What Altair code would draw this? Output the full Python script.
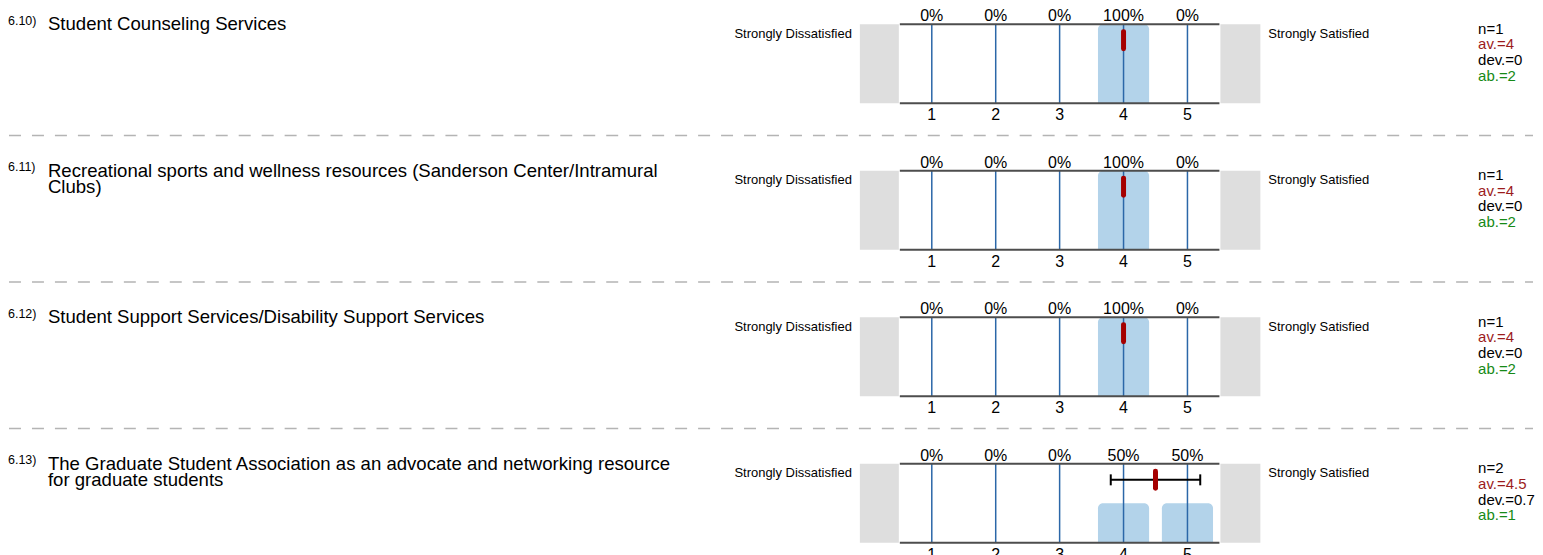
import altair as alt
import pandas as pd

# ---- data ----
qids = ["6.10)", "6.11)", "6.12)", "6.13)"]
titles = [
    "Student Counseling Services",
    "Recreational sports and wellness resources (Sanderson Center/Intramural\nClubs)",
    "Student Support Services/Disability Support Services",
    "The Graduate Student Association as an advocate and networking resource\nfor graduate students",
]
scale_values = [1, 2, 3, 4, 5]
pcts = [
    [0, 0, 0, 100, 0],
    [0, 0, 0, 100, 0],
    [0, 0, 0, 100, 0],
    [0, 0, 0, 50, 50],
]
ns = [1, 1, 1, 2]
means = [4, 4, 4, 4.5]
devs = [0, 0, 0, 0.7]
abst = [2, 2, 2, 1]
left_label = "Strongly Dissatisfied"
right_label = "Strongly Satisfied"

rows = []
for i, q in enumerate(qids):
    for j, v in enumerate(scale_values):
        rows.append({
            "qid": q, "order": i, "title": titles[i], "value": v, "pct": pcts[i][j],
            "n": ns[i], "mean": means[i], "dev": devs[i], "ab": abst[i],
        })
df = pd.DataFrame(rows)

FONT = "Liberation Sans"
W, H = 320, 79
xs = alt.Scale(domain=[0.5, 5.5])
ys = alt.Scale(domain=[0, 100])

base = alt.Chart(df)
one = base.transform_filter("datum.value == 1")

gray_left = one.mark_rect(color="#dedede").encode(
    x=alt.value(-40), x2=alt.value(-1), y=alt.value(0), y2=alt.value(H))
gray_right = one.mark_rect(color="#dedede").encode(
    x=alt.value(W + 1), x2=alt.value(W + 41), y=alt.value(0), y2=alt.value(H))

bars = base.transform_filter("datum.pct > 0").transform_calculate(
    x_lo="datum.value - 0.4", x_hi="datum.value + 0.4"
).mark_bar(color="#b3d3ea", cornerRadiusTopLeft=5, cornerRadiusTopRight=5).encode(
    x=alt.X("x_lo:Q", scale=xs, axis=None),
    x2="x_hi:Q",
    y=alt.Y("pct:Q", scale=ys, axis=None),
    y2=alt.datum(0),
)

vlines = base.mark_rule(color="#2b67a8", strokeWidth=1.5).encode(
    x=alt.X("value:Q", scale=xs, axis=None), y=alt.value(0), y2=alt.value(H))

top_line = one.mark_rule(color="#4d4d4d", strokeWidth=2).encode(
    x=alt.value(0), x2=alt.value(W), y=alt.value(0))
bot_line = one.mark_rule(color="#4d4d4d", strokeWidth=2).encode(
    x=alt.value(0), x2=alt.value(W), y=alt.value(H))

err = one.transform_filter("datum.dev > 0").transform_calculate(
    lo="datum.mean - datum.dev", hi="datum.mean + datum.dev")
err_line = err.mark_rule(color="black", strokeWidth=2).encode(
    x=alt.X("lo:Q", scale=xs, axis=None), x2="hi:Q", y=alt.value(16))
err_caps = err.transform_fold(["lo", "hi"], as_=["end", "pos"]).mark_rule(
    color="black", strokeWidth=2).encode(
    x=alt.X("pos:Q", scale=xs, axis=None), y=alt.value(10.5), y2=alt.value(21.5))

mean_mark = one.mark_rule(color="#a50000", strokeWidth=5, strokeCap="round").encode(
    x=alt.X("mean:Q", scale=xs, axis=None), y=alt.value(7.5), y2=alt.value(24.5))

pct_text = base.transform_calculate(lab="datum.pct + '%'").mark_text(
    font=FONT, fontSize=16, baseline="middle", align="center", color="black").encode(
    x=alt.X("value:Q", scale=xs, axis=None), y=alt.value(-8.3), text="lab:N")

tick_text = base.mark_text(
    font=FONT, fontSize=16, baseline="middle", align="center", color="black").encode(
    x=alt.X("value:Q", scale=xs, axis=None), y=alt.value(H + 12), text="value:Q")

lab_left = one.mark_text(font=FONT, fontSize=13, align="right", baseline="middle",
                         text=left_label, color="black").encode(
    x=alt.value(-48), y=alt.value(9.3))
lab_right = one.mark_text(font=FONT, fontSize=13, align="left", baseline="middle",
                          text=right_label, color="black").encode(
    x=alt.value(W + 49), y=alt.value(9.3))

qnum = one.mark_text(font=FONT, fontSize=12.5, align="left", baseline="alphabetic",
                     color="black").encode(
    x=alt.value(-893), y=alt.value(0.5), text="qid:N")
qtitle = one.mark_text(font=FONT, fontSize=18.6, align="left", baseline="alphabetic",
                       lineBreak="\n", lineHeight=16.5, color="black").encode(
    x=alt.value(-853), y=alt.value(6), text="title:N")

stat_n = one.transform_calculate(s="'n=' + datum.n").mark_text(
    font=FONT, fontSize=15, align="left", baseline="middle", color="black").encode(
    x=alt.value(W + 259), y=alt.value(4.3), text="s:N")
stat_av = one.transform_calculate(s="'av.=' + datum.mean").mark_text(
    font=FONT, fontSize=15, align="left", baseline="middle", color="#9c1c1c").encode(
    x=alt.value(W + 259), y=alt.value(20), text="s:N")
stat_dev = one.transform_calculate(s="'dev.=' + datum.dev").mark_text(
    font=FONT, fontSize=15, align="left", baseline="middle", color="black").encode(
    x=alt.value(W + 259), y=alt.value(35.7), text="s:N")
stat_ab = one.transform_calculate(s="'ab.=' + datum.ab").mark_text(
    font=FONT, fontSize=15, align="left", baseline="middle", color="#168a16").encode(
    x=alt.value(W + 259), y=alt.value(51.4), text="s:N")

sep = one.transform_filter("datum.order < 3").mark_rule(
    color="#b4b4b4", strokeWidth=1.5, strokeDash=[12, 11]).encode(
    x=alt.value(-892), x2=alt.value(634), y=alt.value(H + 32.4))

layered = alt.layer(
    gray_left, gray_right, bars, vlines, top_line, bot_line,
    err_line, err_caps, mean_mark, pct_text, tick_text,
    lab_left, lab_right, qnum, qtitle,
    stat_n, stat_av, stat_dev, stat_ab, sep,
).properties(width=W, height=H)

chart = layered.facet(
    row=alt.Row("qid:N", sort=qids, header=None),
    spacing=67.7,
    bounds="flush",
).properties(
    padding={"left": 0, "top": -1, "right": 0, "bottom": 0},
).configure_view(stroke=None)

chart.save("out.html", embed_options={"renderer": "svg", "actions": False})
